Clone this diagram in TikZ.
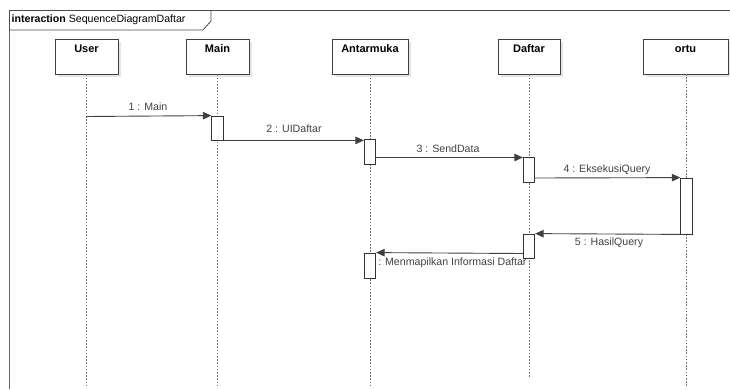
\documentclass[tikz,border=0pt]{standalone}
\usepackage{fontspec}
\setmainfont{Liberation Sans}
\usetikzlibrary{arrows.meta}
\begin{document}
\begin{tikzpicture}[x=1pt,y=-1pt,
  headbox/.style={draw=black!75,line width=0.8pt,fill=white,minimum height=35pt,inner sep=0pt},
  headtext/.style={font=\fontsize{11}{13}\selectfont\bfseries,inner sep=0pt},
  headshadow/.style={fill=black!10,draw=none},
  lifeline/.style={draw=black!55,line width=0.8pt,dash pattern=on 1.6pt off 1.6pt},
  actbox/.style={draw=black!80,line width=0.8pt,fill=white,minimum width=11.5pt,inner sep=0pt},
  msg/.style={draw=black!75,line width=0.9pt,-{Triangle[length=8.5pt,width=7.5pt]}},
  msglabel/.style={text=black!75,font=\fontsize{10.6}{12}\selectfont,inner sep=0pt},
  frameline/.style={draw=black!70,line width=0.8pt}]
\useasboundingbox (0,0) rectangle (730,389);

% interaction frame and its name tab
\draw[frameline] (9,389) -- (9,10) -- (731,10);
\draw[draw=black!60,line width=1.4pt] (9.5,30) -- (9.5,389);
\draw[frameline] (9,30) -- (203,30) -- (211,21) -- (211,10);
\node[anchor=west,inner sep=0pt,font=\fontsize{10.6}{12}\selectfont] (title) at (11.5,20)
  {\textbf{interaction} SequenceDiagramDaftar};

% lifeline heads with their shadows
\foreach \x/\w in {86.5/63, 217.5/63, 370/76, 529/62, 685.5/85}{
  \fill[headshadow] (\x-\w/2+3,42) rectangle (\x+\w/2+3,77);
}
\node[headbox,minimum width=63pt] (user) at (86.5,56.5) {};
\node[headbox,minimum width=63pt] (main) at (217.5,56.5) {};
\node[headbox,minimum width=76pt] (antarmuka) at (370,56.5) {};
\node[headbox,minimum width=62pt] (daftar) at (529,56.5) {};
\node[headbox,minimum width=85pt] (ortu) at (685.5,56.5) {};
\foreach \n/\t in {user/User, main/Main, antarmuka/Antarmuka, daftar/Daftar, ortu/ortu}{
  \node[headtext] at ([yshift=-10pt]\n.north) {\t};
}

% lifeline ends
\coordinate (userEnd) at (86.5,386);
\coordinate (mainEnd) at (217.5,386);
\coordinate (antEnd) at (370,386);
\coordinate (dafEnd) at (529,378);
\coordinate (ortuEnd) at (686.5,386);
\coordinate (ortuTop) at (686.5,74);
\draw[lifeline] (user.south) -- (userEnd);
\draw[lifeline] (main.south) -- (mainEnd);
\draw[lifeline] (antarmuka.south) -- (antEnd);
\draw[lifeline] (daftar.south) -- (dafEnd);
\draw[lifeline] (ortuTop) -- (ortuEnd);

% message labels (drawn first so activations sit on top)
\node[msglabel] (l1) at (148,107) {1 : Main};
\node[msglabel] (l2) at (294,129) {2 : UIDaftar};
\node[msglabel] (l3) at (448,148.5) {3 : SendData};
\node[msglabel] (l4) at (607,170) {4 : EksekusiQuery};
\node[msglabel] (l5) at (609,242.5) {5 : HasilQuery};
\node[msglabel] (l6) at (448,262.5) {6 : Menmapilkan Informasi Daftar};

% activation bars
\node[actbox,minimum height=24pt] (mainA) at (217.5,128) {};
\node[actbox,minimum height=25pt] (antA1) at (370,151.5) {};
\node[actbox,minimum height=25pt] (dafA1) at (529,169.5) {};
\node[actbox,minimum height=56pt] (ortA) at (686.5,206) {};
\node[actbox,minimum height=24pt] (dafA2) at (529,246) {};
\node[actbox,minimum height=25pt] (antA2) at (370,265.5) {};

% message end points
\coordinate (u1) at (86.5,116.5);
\coordinate (s3) at ([yshift=-6pt]antA1.east);
\coordinate (s4) at ([yshift=-8.5pt]dafA1.east);
\coordinate (s6) at ([yshift=-7.5pt]dafA2.west);

% messages
\draw[msg] (u1) -- (mainA.north west);
\draw[msg] (mainA.south east) -- (antA1.west |- mainA.south east);
\draw[msg] (s3) -- (dafA1.west |- s3);
\draw[msg] (s4) -- (ortA.north west);
\draw[msg] (ortA.south west) -- (dafA2.north east);
\draw[msg] (s6) -- (antA2.north east);
\end{tikzpicture}
\end{document}
